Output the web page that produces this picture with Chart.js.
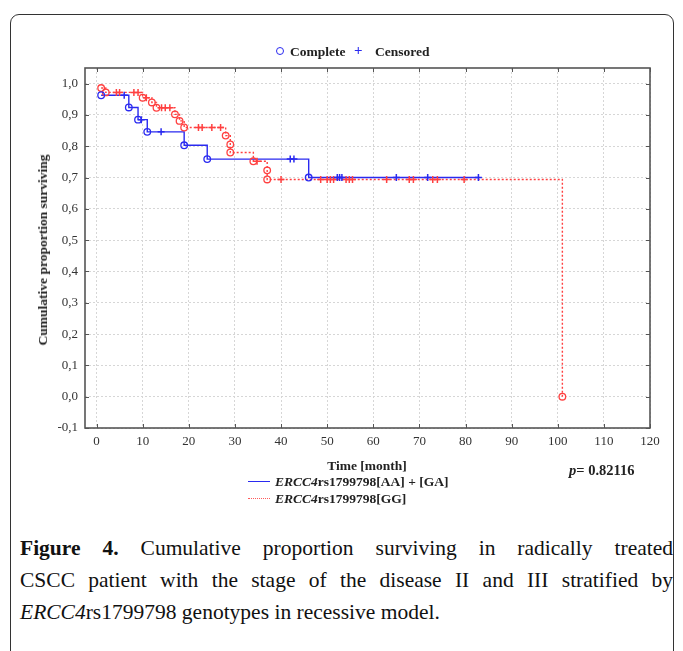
<!DOCTYPE html>
<html lang="en">
<head>
    <meta charset="UTF-8">
    <title>Cumulative proportion surviving - ERCC4 rs1799798</title>
    <script src="https://cdn.jsdelivr.net/npm/chart.js@4.4.1/dist/chart.umd.min.js"></script>
    <style>
        body {
            margin: 0;
            background: #fff;
            font-family: "Liberation Serif", "DejaVu Serif", serif;
            color: #222;
        }
        .frame {
            position: absolute;
            left: 10px;
            top: 14px;
            width: 662px;
            height: 720px;
            border: 1px solid #333;
            border-radius: 9px;
        }
        .chart-box {
            position: absolute;
            left: 0;
            top: 0;
            width: 683px;
            height: 520px;
        }
        .lbl {
            position: absolute;
            font-weight: bold;
            font-size: 13.5px;
            white-space: nowrap;
            color: #222;
        }
        .dot {
            position: absolute;
            width: 6px;
            height: 6px;
            border: 1.5px solid #2a2af0;
            border-radius: 50%;
        }
        .plus { color: #2a2af0; font-size: 15px; }
        .sample {
            position: absolute;
            width: 22px;
            height: 0;
        }
        .caption {
            position: absolute;
            left: 20px;
            width: 653px;
            font-size: 21.5px;
            line-height: 32px;
            white-space: nowrap;
            color: #111;
        }
        .just { text-align: justify; text-align-last: justify; }
    </style>
</head>
<body>
    <div class="frame"></div>
    <div class="chart-box"><canvas id="km"></canvas></div>

    <!-- top legend -->
    <div class="dot" style="left:276px; top:47px;"></div>
    <div class="lbl" style="left:290px; top:44px;">Complete</div>
    <div class="lbl plus" style="left:354px; top:42px;">+</div>
    <div class="lbl" style="left:375px; top:44px;">Censored</div>

    <!-- axis titles -->
    <div class="lbl" style="left:43px; top:250px; transform:translate(-50%,-50%) rotate(-90deg);">Cumulative proportion surviving</div>
    <div class="lbl" style="left:367px; top:466px; transform:translate(-50%,-50%);">Time [month]</div>

    <!-- bottom legend -->
    <div class="sample" style="left:248px; top:481px; border-top:1.5px solid #2a2af0;"></div>
    <div class="lbl" style="left:275px; top:474px;"><i>ERCC4</i>rs1799798[AA] + [GA]</div>
    <div class="sample" style="left:248px; top:498px; border-top:1.5px dotted #ff5a5a;"></div>
    <div class="lbl" style="left:275px; top:491px;"><i>ERCC4</i>rs1799798[GG]</div>
    <div class="lbl" style="left:569px; top:462px; font-size:14.5px;"><i>p</i>= 0.82116</div>

    <!-- figure caption -->
    <div class="caption just" style="top:532px;"><b>Figure 4.</b> Cumulative proportion surviving in radically treated</div>
    <div class="caption just" style="top:564px;">CSCC patient with the stage of the disease II and III stratified by</div>
    <div class="caption" style="top:596px;"><i>ERCC4</i>rs1799798 genotypes in recessive model.</div>

    <script>
        // ERCC4 rs1799798 [AA] + [GA]
        const aaDeathTimes = [1, 7, 9, 11, 19, 24, 46];
        const aaDeathSurv = [0.963, 0.924, 0.885, 0.846, 0.803, 0.759, 0.700];
        const aaCensorTimes = [6, 9.7, 14, 42, 42.8, 52.2, 52.7, 53.2, 65, 71.8, 82.8];
        const aaLastTime = 83;

        // ERCC4 rs1799798 [GG]
        const ggDeathTimes = [1, 2, 10, 12, 13, 17, 18, 19, 28, 29, 29, 34, 37, 37, 101];
        const ggDeathSurv = [0.986, 0.972, 0.955, 0.940, 0.923, 0.902, 0.881, 0.860, 0.834, 0.806, 0.780, 0.752, 0.723, 0.694, 0.0];
        const ggCensorTimes = [4.3, 5, 8.1, 9, 10.8, 14.1, 14.9, 15.9, 22.1, 22.9, 25, 26.9, 34.8, 40,
            48.6, 50, 50.7, 51.4, 54.1, 54.8, 55.5, 62.9, 67.8, 68.7, 72.9, 73.9, 79.7];

        const xTicks = [0, 10, 20, 30, 40, 50, 60, 70, 80, 90, 100, 110, 120];
        const yTicks = [-0.1, 0, 0.1, 0.2, 0.3, 0.4, 0.5, 0.6, 0.7, 0.8, 0.9, 1.0];

        const blue = '#2a2af0';
        const red = '#ff4040';

        // survival level of the curve at time t (last event at or before t)
        function levelAt(times, surv, t) {
            let v = 1;
            for (let i = 0; i < times.length; i++) {
                if (times[i] <= t) v = surv[i];
            }
            return v;
        }

        const pts = (times, surv) => times.map((t, i) => ({x: t, y: surv[i]}));

        const aaLine = pts(aaDeathTimes, aaDeathSurv).concat([{x: aaLastTime, y: aaDeathSurv[aaDeathSurv.length - 1]}]);
        const ggLine = pts(ggDeathTimes, ggDeathSurv);
        const aaCens = aaCensorTimes.map(t => ({x: t, y: levelAt(aaDeathTimes, aaDeathSurv, t)}));
        const ggCens = ggCensorTimes.map(t => ({x: t, y: levelAt(ggDeathTimes, ggDeathSurv, t)}));

        const framePlugin = {
            id: 'frame',
            afterDatasetsDraw(chart) {
                const {ctx, chartArea: a, scales: {x, y}} = chart;
                ctx.save();
                ctx.strokeStyle = '#555';
                ctx.lineWidth = 1;
                ctx.beginPath();
                xTicks.forEach(v => {
                    const px = Math.round(x.getPixelForValue(v)) + 0.5;
                    ctx.moveTo(px, a.bottom); ctx.lineTo(px, a.bottom - 4);
                    ctx.moveTo(px, a.top); ctx.lineTo(px, a.top + 4);
                });
                yTicks.forEach(v => {
                    const py = Math.round(y.getPixelForValue(v)) + 0.5;
                    ctx.moveTo(a.left, py); ctx.lineTo(a.left + 4, py);
                    ctx.moveTo(a.right, py); ctx.lineTo(a.right - 4, py);
                });
                ctx.stroke();
                ctx.lineWidth = 1.6;
                ctx.strokeRect(a.left, a.top, a.right - a.left, a.bottom - a.top);
                ctx.restore();
            }
        };

        const tickFont = {family: "'Liberation Serif', serif", size: 13};

        new Chart(document.getElementById('km'), {
            type: 'scatter',
            data: {
                datasets: [
                    {
                        label: 'GG line', data: ggLine, showLine: true, stepped: true,
                        borderColor: red, borderWidth: 1.4, borderDash: [2, 2],
                        pointRadius: 0, order: 5
                    },
                    {
                        label: 'AA+GA line', data: aaLine, showLine: true, stepped: true,
                        borderColor: blue, borderWidth: 1.4,
                        pointRadius: 0, order: 4
                    },
                    {
                        label: 'GG complete', data: pts(ggDeathTimes, ggDeathSurv),
                        pointStyle: 'circle', pointRadius: 3.3, pointBorderWidth: 1.3,
                        pointBorderColor: red, pointBackgroundColor: 'rgba(255,255,255,0)', order: 3
                    },
                    {
                        label: 'AA+GA complete', data: pts(aaDeathTimes, aaDeathSurv),
                        pointStyle: 'circle', pointRadius: 3.3, pointBorderWidth: 1.3,
                        pointBorderColor: blue, pointBackgroundColor: 'rgba(255,255,255,0)', order: 2
                    },
                    {
                        label: 'GG censored', data: ggCens,
                        pointStyle: 'cross', pointRadius: 3.5, pointBorderWidth: 1.5,
                        pointBorderColor: red, order: 1
                    },
                    {
                        label: 'AA+GA censored', data: aaCens,
                        pointStyle: 'cross', pointRadius: 3.5, pointBorderWidth: 1.5,
                        pointBorderColor: blue, order: 0
                    }
                ]
            },
            options: {
                responsive: true,
                maintainAspectRatio: false,
                animation: false,
                layout: {padding: {left: 0, top: 68, right: 33, bottom: 0}},
                plugins: {legend: {display: false}, tooltip: {enabled: false}},
                scales: {
                    x: {
                        type: 'linear',
                        min: -2.5,
                        max: 120,
                        afterFit: s => { s.height = 92; },
                        afterBuildTicks: s => { s.ticks = xTicks.map(v => ({value: v})); },
                        ticks: {color: '#333', font: tickFont, padding: 6, maxRotation: 0},
                        grid: {color: '#d6d6d6', lineWidth: 1, drawTicks: false},
                        border: {display: false, dash: [2, 2]}
                    },
                    y: {
                        type: 'linear',
                        min: -0.1,
                        max: 1.05,
                        afterFit: s => { s.width = 85; },
                        afterBuildTicks: s => { s.ticks = yTicks.map(v => ({value: v})); },
                        ticks: {
                            color: '#333', font: tickFont, padding: 7,
                            callback: v => v.toFixed(1).replace('.', ',')
                        },
                        grid: {color: '#d6d6d6', lineWidth: 1, drawTicks: false},
                        border: {display: false, dash: [2, 2]}
                    }
                }
            },
            plugins: [framePlugin]
        });
    </script>
</body>
</html>
